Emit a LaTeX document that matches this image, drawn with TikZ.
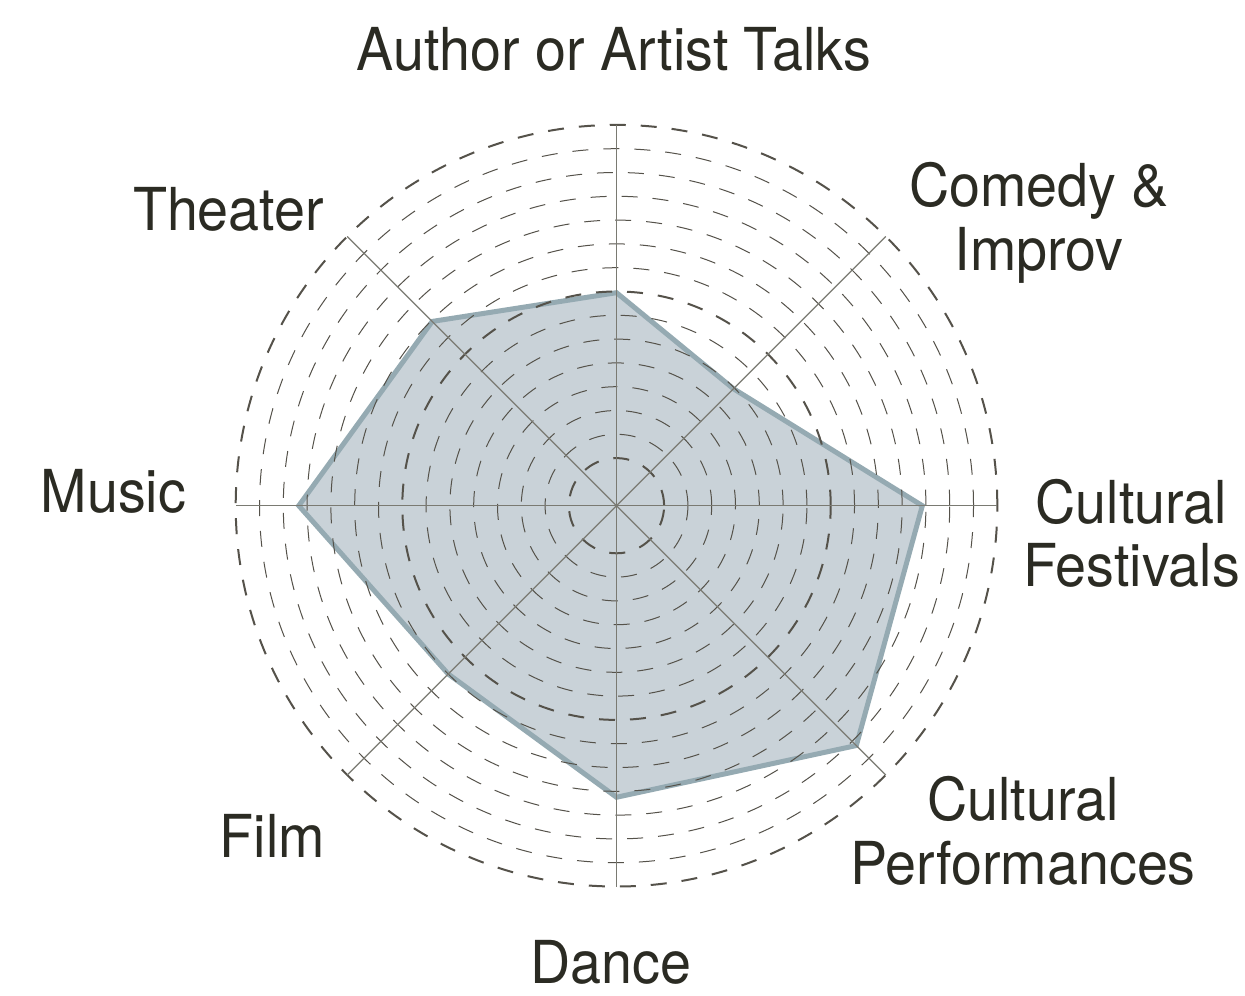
\documentclass[tikz,border=0pt]{standalone}
\usepackage{fontspec}
\setmainfont{TeX Gyre Heros}[FakeStretch=0.94]
\definecolor{txt}{HTML}{2B2B23}
\definecolor{gridc}{HTML}{55524A}
\definecolor{axisc}{HTML}{7A7A72}
\definecolor{polyfill}{HTML}{C9D2D8}
\definecolor{polyline}{HTML}{95AAB2}
\begin{document}
\begin{tikzpicture}[x=0.5pt,y=-0.5pt,
  lab/.style={text=txt,font=\fontsize{29.6pt}{31.6pt}\selectfont,align=center,anchor=base,inner sep=0pt},
  ring/.style={draw=gridc,line width=0.5pt,dash pattern=on 8pt off 7.5pt},
  bigring/.style={draw=gridc,line width=1pt,dash pattern=on 8pt off 7.5pt},
  axisline/.style={draw=axisc,line width=0.6pt},
  datapoly/.style={fill=polyfill,draw=polyline,line width=2.5pt,line join=miter}]
\useasboundingbox[fill=white] (0,0) rectangle (1245,995);
\coordinate (c) at (616.5,505.7);
% data polygon
\path (c) ++(90:8.95*11.9pt) coordinate (p1);
\path (c) ++(45:6.95*11.9pt) coordinate (p2);
\path (c) ++(0:12.85*11.9pt) coordinate (p3);
\path (c) ++(-45:14.25*11.9pt) coordinate (p4);
\path (c) ++(-90:12.25*11.9pt) coordinate (p5);
\path (c) ++(-135:10.0*11.9pt) coordinate (p6);
\path (c) ++(180:13.35*11.9pt) coordinate (p7);
\path (c) ++(135:10.95*11.9pt) coordinate (p8);
\draw[datapoly] (p1) -- (p2) -- (p3) -- (p4) -- (p5) -- (p6) -- (p7) -- (p8) -- cycle;
% rings
\foreach \k in {3,4,5,6,7,8,10,11,12,13,14,15}
  \draw[ring] (c) circle[radius=\k*11.9pt];
\foreach \k in {2,9,16}
  \draw[bigring] (c) circle[radius=\k*11.9pt];
% axes
\foreach \a in {0,45,90,135,180,225,270,315}
  \path (c) ++(\a:16*11.9pt) coordinate (e\a);
\draw[axisline] (e0) -- (e180);
\draw[axisline] (e90) -- (e270);
\draw[axisline] (e45) -- (e225);
\draw[axisline] (e135) -- (e315);
% labels
\node[lab] (lauthor) at (614,70) {Author or Artist Talks};
\node[lab] (lcomedy) at (1039,270) {Comedy \&\\Improv};
\node[lab] (lfest) at (1131.5,586.5) {Cultural\\Festivals};
\node[lab] (lperf) at (1023,884) {Cultural\\Performances};
\node[lab] (ldance) at (611,983) {Dance};
\node[lab] (lfilm) at (272.5,857) {Film};
\node[lab] (lmusic) at (113.5,512) {Music};
\node[lab] (ltheater) at (228.5,230) {Theater};
\end{tikzpicture}
\end{document}
